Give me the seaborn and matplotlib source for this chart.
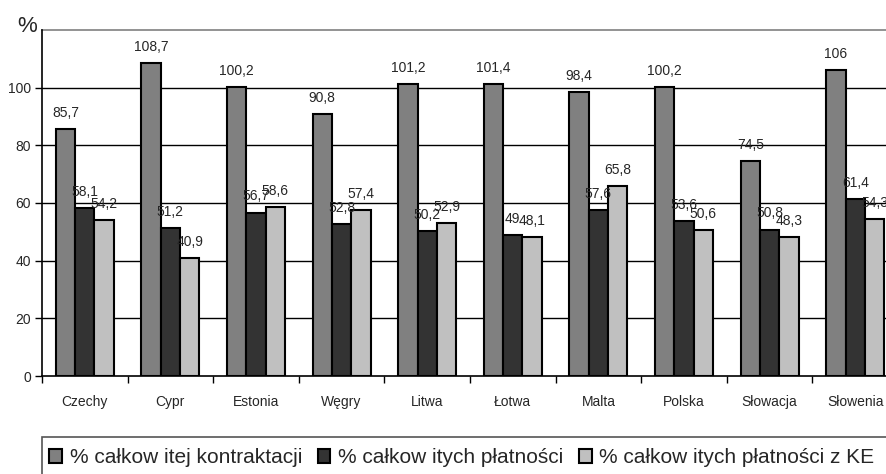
import matplotlib
matplotlib.use("Agg")
import matplotlib.pyplot as plt
from matplotlib.patches import Patch, Rectangle
import seaborn as sns
import pandas as pd

categories = ["Czechy", "Cypr", "Estonia", "Węgry", "Litwa", "Łotwa", "Malta", "Polska", "Słowacja", "Słowenia"]
series_names = ["% całkow itej kontraktacji", "% całkow itych płatności", "% całkow itych płatności z KE"]
kontraktacja = [85.7, 108.7, 100.2, 90.8, 101.2, 101.4, 98.4, 100.2, 74.5, 106]
platnosci = [58.1, 51.2, 56.7, 52.8, 50.2, 49, 57.6, 53.6, 50.8, 61.4]
platnosci_ke = [54.2, 40.9, 58.6, 57.4, 52.9, 48.1, 65.8, 50.6, 48.3, 54.3]
y_ticks = [0, 20, 40, 60, 80, 100]
colors = ["#808080", "#333333", "#c0c0c0"]

sns.set_style("white")
plt.rcParams["font.family"] = ["Liberation Sans", "DejaVu Sans"]

rows = []
for vals, name in zip([kontraktacja, platnosci, platnosci_ke], series_names):
    for c, v in zip(categories, vals):
        rows.append({"kraj": c, "seria": name, "wartosc": v})
df = pd.DataFrame(rows)

fig = plt.figure(figsize=(8.86, 4.74), dpi=100)
ax = fig.add_axes([42 / 886, 98 / 474, 856 / 886, 346 / 474])

sns.barplot(data=df, x="kraj", y="wartosc", hue="seria", order=categories,
            hue_order=series_names, palette=colors, width=0.678, gap=0,
            edgecolor="black", linewidth=1.5, saturation=1, ax=ax, legend=False,
            zorder=3)

ax.set_ylim(0, 120)
ax.set_xlim(-0.5, len(categories) - 0.5)
ax.set_yticks(y_ticks)
ax.set_yticklabels([str(t) for t in y_ticks], fontsize=10)
ax.set_xticks(range(len(categories)))
ax.set_xticklabels(categories, fontsize=10)
ax.set_xticks([i - 0.5 for i in range(len(categories) + 1)], minor=True)
ax.tick_params(axis="x", which="major", length=0, pad=14)
ax.tick_params(axis="x", which="minor", length=5, width=1, color="black", direction="out", bottom=True)
ax.tick_params(axis="y", which="major", length=5, width=1, color="black", direction="out", left=True, pad=3)
ax.set_xlabel("")
ax.set_ylabel("")

for y in y_ticks[1:]:
    ax.axhline(y, color="black", linewidth=1, zorder=1)

for s in ["left", "bottom"]:
    ax.spines[s].set_color("black")
    ax.spines[s].set_linewidth(1.2)
    ax.spines[s].set_zorder(4)
ax.spines["top"].set_color("#808080")
ax.spines["top"].set_linewidth(1.2)
ax.spines["right"].set_visible(False)

def fmt(v):
    if float(v).is_integer():
        return str(int(v))
    return ("%.1f" % v).replace(".", ",")

for cont, vals in zip(ax.containers, [kontraktacja, platnosci, platnosci_ke]):
    ax.bar_label(cont, labels=[fmt(v) for v in vals], padding=6.5, fontsize=10, zorder=5)

fig.text(27 / 886, 1 - 27 / 474, "%", fontsize=16, ha="center", va="center")

# legend frame (extends past the right and bottom edges, as in the reference)
fig.patches.append(Rectangle((42 / 886, -0.05), 0.99, 1 - 437 / 474 + 0.05,
                             transform=fig.transFigure, fill=False,
                             edgecolor="#555555", linewidth=1.2))

handles = [Patch(facecolor=c, edgecolor="black", linewidth=1.5) for c in colors]
leg = fig.legend(handles, series_names, loc="upper left",
                 bbox_to_anchor=(42 / 886, 1 - 441 / 474), ncol=3, fontsize=15,
                 frameon=False, handlelength=0.62, handleheight=0.62,
                 handletextpad=0.35, columnspacing=0.75, borderpad=0.35,
                 borderaxespad=0)

fig.savefig("out.png", dpi=100)
